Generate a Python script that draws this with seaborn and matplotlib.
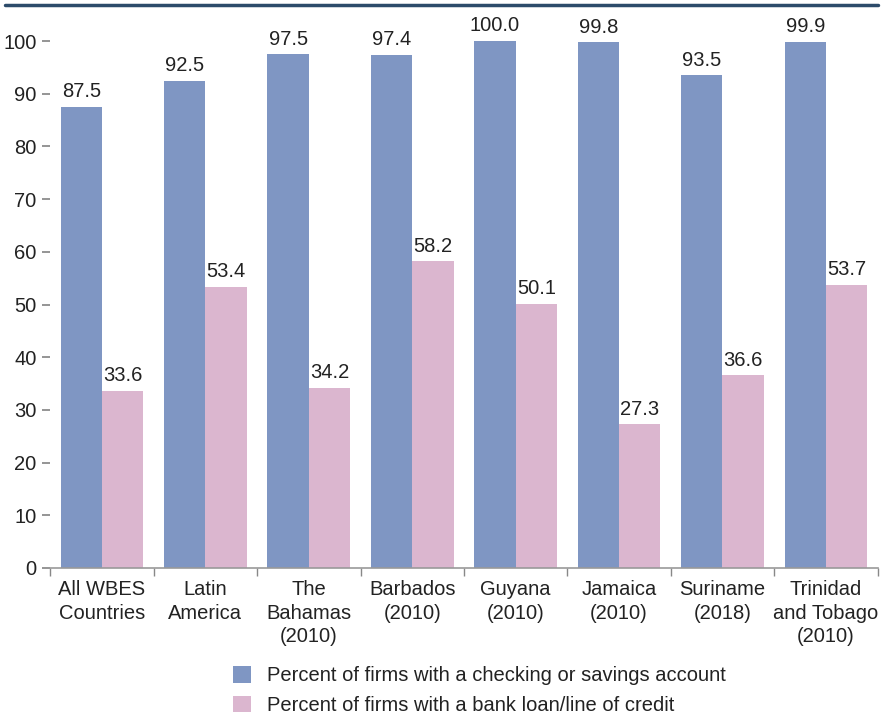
import matplotlib
matplotlib.use("Agg")
import matplotlib.pyplot as plt
import seaborn as sns
import pandas as pd

categories = ["All WBES\nCountries", "Latin\nAmerica", "The\nBahamas\n(2010)", "Barbados\n(2010)",
              "Guyana\n(2010)", "Jamaica\n(2010)", "Suriname\n(2018)", "Trinidad\nand Tobago\n(2010)"]
checking = [87.5, 92.5, 97.5, 97.4, 100.0, 99.8, 93.5, 99.9]
loan = [33.6, 53.4, 34.2, 58.2, 50.1, 27.3, 36.6, 53.7]
series_names = ["Percent of firms with a checking or savings account",
                "Percent of firms with a bank loan/line of credit"]
colors = ["#7f96c3", "#dbb6cf"]

sns.set_theme(style="white")
plt.rcParams["font.family"] = ["Liberation Sans", "DejaVu Sans"]

df = pd.DataFrame({
    "category": categories * 2,
    "value": checking + loan,
    "series": [series_names[0]] * len(categories) + [series_names[1]] * len(categories),
})

fig = plt.figure(figsize=(8.82, 7.14), dpi=100)
ax = fig.add_axes([0.057, 0.2045, 0.938, 0.738])
sns.barplot(data=df, x="category", y="value", hue="series", palette=colors,
            width=0.8, ax=ax, saturation=1, edgecolor="none")

for cont in ax.containers:
    ax.bar_label(cont, fmt="%.1f", padding=4, fontsize=14.5, color="#222222")

ax.set_ylim(0, 100)
ax.set_xlim(-0.5, len(categories) - 0.5)
ax.set_yticks(range(0, 101, 10))
ax.tick_params(axis="y", labelsize=14.5, length=6, color="#888888", labelcolor="#222222", left=True, pad=4)
ax.set_xticks([i - 0.5 for i in range(len(categories) + 1)], minor=True)
ax.set_xticks(range(len(categories)))
ax.set_xticklabels(categories, fontsize=14.5, color="#222222", linespacing=1.3)
ax.tick_params(axis="x", which="major", length=0, pad=9)
ax.tick_params(axis="x", which="minor", length=6, color="#888888", bottom=True)
ax.set_xlabel("")
ax.set_ylabel("")
for s in ["top", "right", "left"]:
    ax.spines[s].set_visible(False)
ax.spines["bottom"].set_color("#999999")
ax.spines["bottom"].set_linewidth(1.2)

leg = ax.legend(loc="upper left", bbox_to_anchor=(0.211, -0.171), frameon=False, fontsize=14.5,
                handlelength=0.9, handleheight=0.9, handletextpad=0.8, labelspacing=0.5,
                borderaxespad=0.0)
for t in leg.get_texts():
    t.set_color("#222222")

fig.add_artist(plt.Line2D([0.006, 0.995], [0.993, 0.993], color="#2c4b6a", lw=2.5,
                          transform=fig.transFigure))

fig.savefig("out.png", dpi=100)
